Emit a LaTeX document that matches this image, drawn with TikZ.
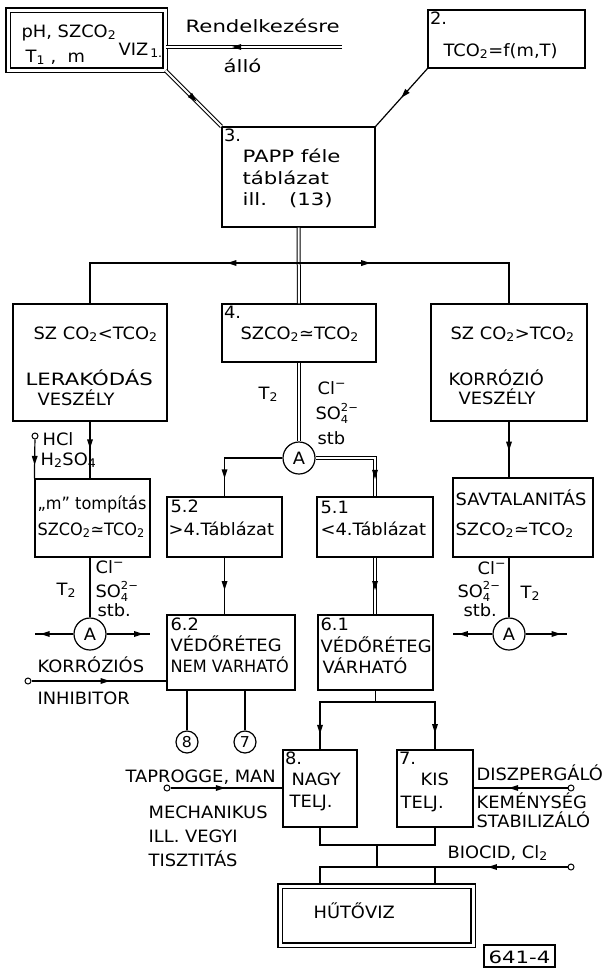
\documentclass[tikz,border=0pt]{standalone}
\usepackage{fontspec}
\setmainfont{DejaVu Sans}[FakeStretch=1.05]
\newfontfamily\widefont{DejaVu Sans}[FakeStretch=1.25]
\newfontfamily\narrowfont{DejaVu Sans}[FakeStretch=0.95]
\usetikzlibrary{arrows.meta,positioning,decorations.markings}

\newcommand{\lettering}{\fontsize{17}{21}\selectfont}
\newcommand{\dn}[1]{\textsubscript{#1}}
\newcommand{\ion}[2]{\rlap{\raisebox{-4.5pt}{\fontsize{11}{11}\selectfont #1}}\raisebox{7.5pt}{\fontsize{11}{11}\selectfont #2}}

\begin{document}
\begin{tikzpicture}[
    x=1pt, y=-1pt,
    font=\lettering,
    line width=1.2pt,
    box/.style={rectangle, draw, inner sep=0pt},
    dblbox/.style={box, double, double distance=3pt},
    lbl/.style={inner sep=0pt, anchor=base west},
    wide/.style={lbl, font=\lettering\widefont},
    narrow/.style={lbl, font=\lettering\narrowfont},
    num/.style={inner sep=2pt, anchor=north west},
    meter/.style={circle, draw, minimum size=32pt, inner sep=0pt},
    port/.style={circle, draw, minimum size=22pt, inner sep=0pt, font=\fontsize{15}{15}\selectfont},
    tap/.style={circle, draw, line width=1pt, minimum size=6pt, inner sep=0pt},
    pipe/.style={double, double distance=2pt, line width=1pt},
    flow/.style={postaction={decorate, decoration={markings,
        mark=at position #1 with {\fill (4pt,0) -- (-5pt,3pt) -- (-5pt,-3pt) -- cycle;}}}},
    flow/.default=0.5,
]
    \useasboundingbox (0,0) rectangle (609,969);

    % Input data and TCO2 function
    \node[dblbox, minimum width=157, minimum height=60] (viz1) at (86.5,40) {};
    \node[lbl] (viz1a) at (21,37) {pH, SZCO\dn{2}};
    \node[lbl] (viz1b) at (25,62) {T\dn{1} ,\ \ m};
    \node[lbl] (viz1c) at (118,55) {VIZ\dn{\,1.}};
    \node[box, minimum width=157, minimum height=58] (tco) at (506.5,39) {};
    \node[num] (tcon) at (tco.north west) {2.};
    \node[lbl] (tcot) at (443,56) {TCO\dn{2}=f(m,T)};
    \coordinate (supply) at (342,47);
    \node[wide] (rend) at (185,32) {Rendelkezésre};
    \node[wide] (allo) at (223,72) {álló};
    \draw[pipe, flow=0.6] (supply) -- (supply -| viz1.east);

    % PAPP table
    \node[box, minimum width=153, minimum height=100] (papp) at (298.5,177) {};
    \node[num] (pappn) at (papp.north west) {3.};
    \node[wide] (pappa) at (242,162) {PAPP féle};
    \node[wide] (pappb) at (242,184) {táblázat};
    \node[wide] (pappc) at (242,205) {ill.\hspace{22pt}(13)};
    \draw[pipe, flow] (viz1.south east) -- (papp.north west);
    \draw[flow=0.45] (tco.south west) -- (papp.north east);

    % Three cases
    \node[box, minimum width=154, minimum height=117] (lerak) at (90,362.5) {};
    \node[lbl] (leraka) at (33,339) {SZ CO\dn{2}<TCO\dn{2}};
    \node[wide] (lerakb) at (25,385) {LERAKÓDÁS};
    \node[lbl] (lerakc) at (37,405) {VESZÉLY};
    \node[box, minimum width=154, minimum height=58] (equal) at (299,333) {};
    \node[num] (equaln) at (equal.north west) {4.};
    \node[lbl] (equalt) at (240,339) {SZCO\dn{2}≃TCO\dn{2}};
    \node[box, minimum width=156, minimum height=117] (korr) at (509,362.5) {};
    \node[lbl] (korra) at (450,339) {SZ CO\dn{2}>TCO\dn{2}};
    \node[lbl] (korrb) at (448,385) {KORRÓZIÓ};
    \node[lbl] (korrc) at (458,404) {VESZÉLY};
    \coordinate (fork) at (298.5,263);
    \draw[pipe] (papp.south) -- (equal.north);
    \draw[flow=0.27] (fork) -| (lerak.north);
    \draw[flow=0.27] (fork) -| (korr.north);

    % Middle branch
    \node[meter] (meterM) at (299,458) {A};
    \draw[pipe] (equal.south) -- (meterM);
    \node[lbl] (midt) at (258,399) {T\dn{2}};
    \node[lbl] (midcl) at (317,394) {Cl\textsuperscript{−}};
    \node[lbl] (midso) at (315,419) {SO\ion{4}{2−}};
    \node[lbl] (midstb) at (317,444) {stb};
    \node[box, minimum width=115, minimum height=60] (gt) at (224.5,527) {};
    \node[lbl] (gta) at (170,512) {5.2};
    \node[lbl] (gtb) at (168,535) {>4.Táblázat};
    \node[box, minimum width=116, minimum height=60] (lt) at (375,527) {};
    \node[lbl] (lta) at (320,513) {5.1};
    \node[lbl] (ltb) at (320,535) {<4.Táblázat};
    \draw[flow=0.77] (meterM) -| (gt.north);
    \draw[pipe, flow=0.78] (meterM) -| (lt.north);
    \node[box, minimum width=128, minimum height=75] (nolay) at (231,652.5) {};
    \node[lbl] (nolaya) at (170,630) {6.2};
    \node[lbl] (nolayb) at (170,651) {VÉDŐRÉTEG};
    \node[narrow] (nolayc) at (170,672) {NEM VARHATÓ};
    \node[box, minimum width=115, minimum height=75] (layer) at (375.5,652.5) {};
    \node[lbl] (layera) at (320,630) {6.1};
    \node[lbl] (layerb) at (320,652) {VÉDŐRÉTEG};
    \node[lbl] (layerc) at (322,673) {VÁRHATÓ};
    \draw[flow] (gt.south) -- (gt.south |- nolay.north);
    \draw[pipe, flow] (lt.south) -- (lt.south |- layer.north);

    % Left branch
    \node[box, minimum width=115, minimum height=78] (blunt) at (92.5,518) {};
    \node[narrow] (blunta) at (37,509) {„m” tompítás};
    \node[narrow] (bluntb) at (37,535) {SZCO\dn{2}≃TCO\dn{2}};
    \draw[flow=0.4] (lerak.south) -- (lerak.south |- blunt.north);
    \node[tap] (acid) at (35,436) {};
    \node[lbl] (acida) at (42,445) {HCl};
    \node[lbl] (acidb) at (40,465) {H\dn{2}SO\dn{4}};
    \draw[flow=0.55] (acid) -- (blunt.north west);
    \node[meter] (meterL) at (90,634) {A};
    \draw (meterL) -- (meterL |- blunt.south);
    \coordinate (leftw) at (35,634);
    \coordinate (lefte) at (150,634);
    \draw[flow=0.75] (meterL) -- (leftw);
    \draw[flow=0.75] (meterL) -- (lefte);
    \node[lbl] (leftt) at (56,595) {T\dn{2}};
    \node[lbl] (leftcl) at (95,573) {Cl\textsuperscript{−}};
    \node[lbl] (leftso) at (95,597) {SO\ion{4}{2−}};
    \node[lbl] (leftstb) at (97,616) {stb.};
    \node[lbl] (inha) at (37,672) {KORRÓZIÓS};
    \node[lbl] (inhb) at (37,704) {INHIBITOR};
    \node[tap] (inh) at (28,681) {};
    \draw[flow=0.55] (inh) -- (inh -| nolay.west);

    % Right branch
    \node[box, minimum width=140, minimum height=79] (acidless) at (523,517.5) {};
    \node[lbl] (acidlessa) at (455,505) {SAVTALANITÁS};
    \node[lbl] (acidlessb) at (455,535) {SZCO\dn{2}≃TCO\dn{2}};
    \draw[flow=0.45] (korr.south) -- (korr.south |- acidless.north);
    \node[meter] (meterR) at (509,634) {A};
    \draw (meterR) -- (meterR |- acidless.south);
    \coordinate (rightw) at (453,634);
    \coordinate (righte) at (567,634);
    \draw[flow=0.75] (meterR) -- (rightw);
    \draw[flow=0.75] (meterR) -- (righte);
    \node[lbl] (rightcl) at (477,574) {Cl\textsuperscript{−}};
    \node[lbl] (rightso) at (457,597) {SO\ion{4}{2−}};
    \node[lbl] (rightstb) at (463,616) {stb.};
    \node[lbl] (rightt) at (520,598) {T\dn{2}};

    % References to 8 and 7
    \node[port] (to8) at (187,742) {8};
    \node[port] (to7) at (245,742) {7};
    \draw (to8) -- (to8 |- nolay.south);
    \draw (to7) -- (to7 |- nolay.south);

    % Capacity cases
    \node[box, minimum width=74, minimum height=77] (big) at (320,788.5) {};
    \node[num] (bign) at (big.north west) {8.};
    \node[lbl] (biga) at (291,785) {NAGY};
    \node[lbl] (bigb) at (289,807) {TELJ.};
    \node[box, minimum width=76, minimum height=77] (small) at (435,788.5) {};
    \node[num] (smalln) at (small.north west) {7.};
    \node[lbl] (smalla) at (420,785) {KIS};
    \node[lbl] (smallb) at (400,808) {TELJ.};
    \coordinate (fork2) at (375.5,702);
    \draw (layer.south) -- (fork2);
    \draw[flow=0.81] (fork2) -| (big.north);
    \draw[flow=0.81] (fork2) -| (small.north);

    % Side inputs
    \node[tap] (tap1) at (167,788) {};
    \node[lbl] (tapa) at (125,782) {TAPROGGE, MAN};
    \node[lbl] (tapb) at (148,818) {MECHANIKUS};
    \node[lbl] (tapc) at (148,842) {ILL. VEGYI};
    \node[lbl] (tapd) at (148,866) {TISZTITÁS};
    \draw[flow=0.45] (tap1) -- (tap1 -| big.west);
    \node[tap] (tap2) at (571,788) {};
    \node[lbl] (dispa) at (476,780) {DISZPERGÁLÓ};
    \node[lbl] (dispb) at (476,808) {KEMÉNYSÉG};
    \node[lbl] (dispc) at (476,827) {STABILIZÁLÓ};
    \draw[flow=0.58] (tap2) -- (tap2 -| small.east);

    % Cooling water
    \coordinate (join) at (377,845);
    \coordinate (fork3) at (377,867);
    \draw (big.south) |- (join) -| (small.south);
    \draw (join) -- (fork3);
    \node[dblbox, minimum width=193, minimum height=59] (cool) at (376.5,915.5) {};
    \node[lbl] (coolt) at (313,918) {HŰTŐVIZ};
    \draw (fork3) -| (big.south |- cool.north);
    \draw (fork3) -| (small.south |- cool.north);
    \node[tap] (tap3) at (571,867) {};
    \node[lbl] (bioc) at (447,858) {BIOCID, Cl\dn{2}};
    \draw[flow=0.57] (tap3) -- (tap3 -| small.south);
    \node[box, minimum width=71, minimum height=22] (tag) at (519.5,956) {};
    \node[wide] (tagt) at (488,963) {641-4};
\end{tikzpicture}
\end{document}
